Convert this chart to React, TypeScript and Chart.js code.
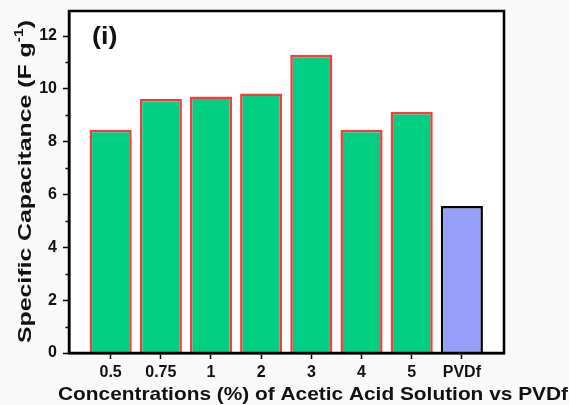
import React, { useEffect, useRef } from "react";
import { Chart, registerables } from "chart.js";

Chart.register(...registerables);

// Specific capacitance per binder condition
const categories = ["0.5", "0.75", "1", "2", "3", "4", "5", "PVDf"];
const capacitance = [8.45, 9.62, 9.71, 9.83, 11.29, 8.45, 9.13, 5.57];
const yTickValues = [0, 2, 4, 6, 8, 10, 12];
const yMinorValues = [1, 3, 5, 7, 9, 11];

const FONT = "'Liberation Sans', Arial, sans-serif";
const GREEN = "rgb(2, 206, 132)";
const RED = "rgb(250, 58, 60)";
const BLUE = "rgb(150, 160, 250)";

// draws text centred on (0,0) of the current transform, stretched to a given length
function stretchedText(ctx: CanvasRenderingContext2D, text: string, size: number, length: number) {
  ctx.font = `bold ${size}px ${FONT}`;
  const w = ctx.measureText(text).width;
  ctx.save();
  ctx.scale(length / w, 1);
  ctx.textAlign = "center";
  ctx.fillText(text, 0, 0);
  ctx.restore();
}

const annotate = {
  id: "annotate",
  afterDraw(chart: any) {
    const { ctx, chartArea: a, scales } = chart;
    const y = scales.y;
    ctx.save();
    // frame
    ctx.strokeStyle = "#000";
    ctx.lineWidth = 2.5;
    ctx.strokeRect(a.left, a.top, a.right - a.left, a.bottom - a.top);
    // minor ticks on the value axis
    ctx.lineWidth = 1.5;
    ctx.beginPath();
    for (const v of yMinorValues) {
      const py = Math.round(y.getPixelForValue(v)) + 0.5;
      ctx.moveTo(a.left - 3.5, py);
      ctx.lineTo(a.left, py);
    }
    ctx.stroke();

    ctx.fillStyle = "#111";
    // panel label
    ctx.font = `bold 24px ${FONT}`;
    ctx.textAlign = "left";
    ctx.textBaseline = "middle";
    ctx.save();
    ctx.translate(92, 37);
    ctx.scale(1.12, 1);
    ctx.fillText("(i)", 0, 0);
    ctx.restore();

    ctx.textBaseline = "alphabetic";
    // x title
    ctx.save();
    ctx.translate(313, 400);
    stretchedText(ctx, "Concentrations (%) of Acetic Acid Solution vs PVDf", 19, 510);
    ctx.restore();

    // y title with superscript
    ctx.save();
    ctx.translate(31, 181.5);
    ctx.rotate(-Math.PI / 2);
    const main = "Specific Capacitance (F g";
    const sup = "-1";
    const close = ")";
    ctx.font = `bold 19px ${FONT}`;
    const wMain = ctx.measureText(main).width;
    const wClose = ctx.measureText(close).width;
    ctx.font = `bold 12px ${FONT}`;
    const wSup = ctx.measureText(sup).width;
    const total = wMain + wSup + wClose;
    const k = 323 / total;
    ctx.scale(k, 1);
    let x0 = -total / 2;
    ctx.textAlign = "left";
    ctx.font = `bold 19px ${FONT}`;
    ctx.fillText(main, x0, 0);
    x0 += wMain;
    ctx.font = `bold 12px ${FONT}`;
    ctx.fillText(sup, x0, -8);
    x0 += wSup;
    ctx.font = `bold 19px ${FONT}`;
    ctx.fillText(close, x0, 0);
    ctx.restore();
    ctx.restore();
  },
};

const background = {
  id: "background",
  beforeDraw(chart: any) {
    const { ctx, width, height, chartArea: a } = chart;
    ctx.save();
    ctx.fillStyle = "#f9f9f9";
    ctx.fillRect(0, 0, width, height);
    ctx.fillStyle = "#ffffff";
    ctx.fillRect(a.left, a.top, a.right - a.left, a.bottom - a.top);
    ctx.restore();
  },
};

export default function App() {
  const ref = useRef<HTMLCanvasElement>(null);

  useEffect(() => {
    const canvas = ref.current;
    if (!canvas) return;
    const isRef = (c: string) => c === "PVDf";
    const chart = new Chart(canvas, {
      type: "bar",
      data: {
        datasets: [
          {
            data: capacitance.map((v, i) => ({ x: i, y: v })),
            backgroundColor: categories.map((c) => (isRef(c) ? BLUE : GREEN)),
            borderColor: categories.map((c) => (isRef(c) ? "#000" : RED)),
            borderWidth: 2.5,
            barPercentage: 0.84,
            categoryPercentage: 1,
          },
        ],
      },
      options: {
        responsive: false,
        animation: false,
        devicePixelRatio: 1,
        layout: { padding: { left: 0, top: 11, right: 65, bottom: 0 } },
        plugins: { legend: { display: false }, tooltip: { enabled: false } },
        scales: {
          x: {
            type: "linear",
            offset: false,
            min: -0.83,
            max: 7.84,
            afterBuildTicks: (s: any) => {
              s.ticks = categories.map((_, i) => ({ value: i }));
            },
            afterFit: (s: any) => {
              s.height = 52;
              s.paddingLeft = 0;
              s.paddingRight = 0;
            },
            grid: {
              offset: false,
              drawOnChartArea: false,
              color: "#000",
              tickColor: "#000",
              tickLength: 6,
              tickWidth: 1.5,
            },
            border: { color: "#000", width: 2.5 },
            ticks: {
              color: "#111",
              padding: 4,
              font: { family: FONT, size: 16, weight: "bold" },
              callback: (v: any) => categories[Math.round(Number(v))] ?? "",
            },
          },
          y: {
            min: 0,
            max: 12.95,
            afterBuildTicks: (s: any) => {
              s.ticks = yTickValues.map((v) => ({ value: v }));
            },
            afterFit: (s: any) => {
              s.width = 69;
              s.paddingTop = 0;
              s.paddingBottom = 0;
            },
            grid: {
              drawOnChartArea: false,
              color: "#000",
              tickColor: "#000",
              tickLength: 6,
              tickWidth: 1.5,
            },
            border: { color: "#000", width: 2.5 },
            ticks: {
              color: "#111",
              padding: 6,
              font: { family: FONT, size: 16, weight: "bold" },
            },
          },
        },
      },
      plugins: [background, annotate],
    } as any);
    return () => chart.destroy();
  }, []);

  return (
    <div style={{ position: "fixed", left: 0, top: 0, width: 569, height: 405 }}>
      <canvas ref={ref} width={569} height={405} />
    </div>
  );
}
